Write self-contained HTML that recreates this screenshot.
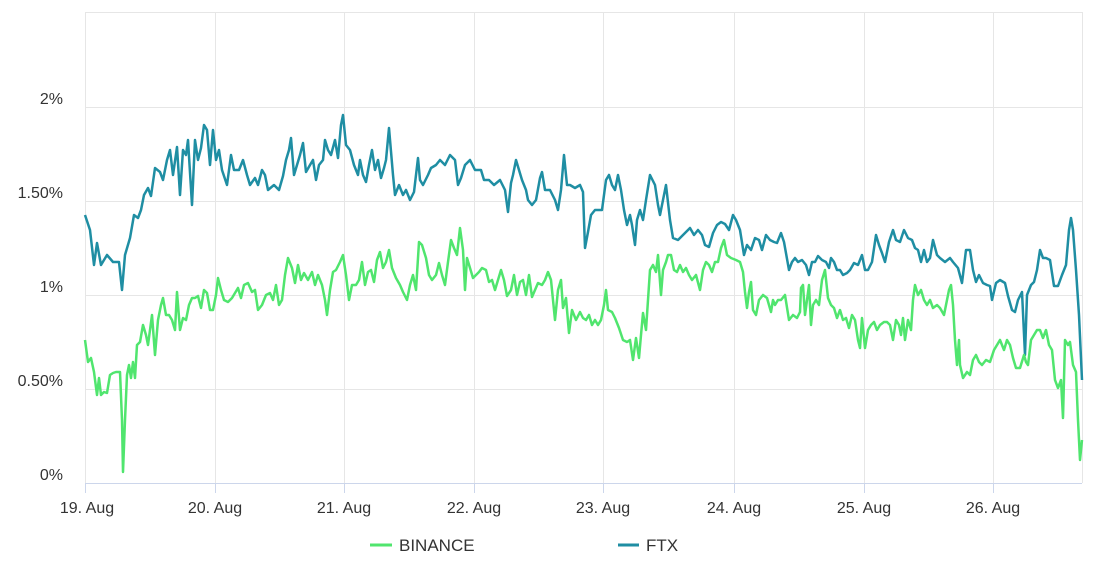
<!DOCTYPE html>
<html><head><meta charset="utf-8"><style>
html,body{margin:0;padding:0;background:#fff;}
svg{display:block;font-family:"Liberation Sans Narrow","Liberation Sans",sans-serif;}
</style></head><body>
<svg width="1098" height="569" viewBox="0 0 1098 569">
<g stroke="#e6e6e6" stroke-width="1">
<line x1="85" y1="12.5" x2="1082" y2="12.5"/>
<line x1="85" y1="107.5" x2="1082" y2="107.5"/>
<line x1="85" y1="201.5" x2="1082" y2="201.5"/>
<line x1="85" y1="295.5" x2="1082" y2="295.5"/>
<line x1="85" y1="389.5" x2="1082" y2="389.5"/>
<line x1="215.5" y1="12" x2="215.5" y2="483"/>
<line x1="344.5" y1="12" x2="344.5" y2="483"/>
<line x1="474.5" y1="12" x2="474.5" y2="483"/>
<line x1="603.5" y1="12" x2="603.5" y2="483"/>
<line x1="734.5" y1="12" x2="734.5" y2="483"/>
<line x1="864.5" y1="12" x2="864.5" y2="483"/>
<line x1="993.5" y1="12" x2="993.5" y2="483"/>
<line x1="85.5" y1="12" x2="85.5" y2="483"/>
<line x1="1082.5" y1="12" x2="1082.5" y2="483"/>
</g>
<line x1="85" y1="483.5" x2="1082" y2="483.5" stroke="#ccd6eb"/>
<g stroke="#ccd6eb"><line x1="85.5" y1="483" x2="85.5" y2="493"/><line x1="215.5" y1="483" x2="215.5" y2="493"/><line x1="344.5" y1="483" x2="344.5" y2="493"/><line x1="474.5" y1="483" x2="474.5" y2="493"/><line x1="603.5" y1="483" x2="603.5" y2="493"/><line x1="734.5" y1="483" x2="734.5" y2="493"/><line x1="864.5" y1="483" x2="864.5" y2="493"/><line x1="993.5" y1="483" x2="993.5" y2="493"/></g>
<g fill="#333" font-size="16" text-anchor="end">
<text x="63" y="104">2%</text><text x="63" y="198">1.50%</text><text x="63" y="292">1%</text><text x="63" y="386">0.50%</text><text x="63" y="480">0%</text>
</g>
<g fill="#333" font-size="16" text-anchor="middle">
<text x="87" y="513">19. Aug</text><text x="215" y="513">20. Aug</text><text x="344" y="513">21. Aug</text><text x="474" y="513">22. Aug</text><text x="603" y="513">23. Aug</text><text x="734" y="513">24. Aug</text><text x="864" y="513">25. Aug</text><text x="993" y="513">26. Aug</text>
</g>
<polyline fill="none" stroke="#1f8ea3" stroke-width="2.5" stroke-linejoin="round" points="85,215 90,230 94,265 97,243 101,265 107,255 113,262 119,262 122,290 125,255 130,238 134,215 138,218 141,210 144,195 148,188 151,196 155,168 160,172 163,180 167,160 170,150 173,175 177,147 180,195 183,150 186,155 188,140 192,205 195,140 198,160 201,148 204,125 207,130 210,165 213,130 216,160 219,150 222,170 227,185 231,155 234,170 239,170 243,160 247,175 250,185 255,178 258,185 262,170 265,175 268,190 274,185 279,190 283,176 286,160 289,150 291,138 294,175 297,165 300,155 303,143 306,172 310,165 313,160 316,180 319,165 323,160 325,140 328,150 331,155 335,140 338,158 341,125 343,115 346,145 350,150 354,165 358,175 360,160 363,175 366,182 369,165 372,150 375,170 378,160 381,178 384,168 386,160 389,128 393,175 395,195 399,185 403,195 406,190 410,200 414,192 418,158 420,180 423,185 428,175 431,168 436,165 440,160 445,165 450,155 455,160 458,185 461,178 465,165 470,160 475,170 481,170 484,180 489,180 494,185 500,180 505,190 508,212 511,183 513,175 516,160 519,170 522,180 526,190 528,200 532,205 536,200 540,178 542,172 545,190 550,190 555,200 558,210 561,190 564,155 567,185 570,185 575,188 580,185 583,192 585,248 588,232 591,215 595,210 599,210 602,210 606,180 609,175 612,185 615,190 618,175 621,190 624,210 627,225 630,215 632,225 635,245 637,220 640,210 643,220 646,200 650,175 655,185 658,205 660,215 663,200 666,185 670,220 673,238 678,240 683,235 686,232 690,228 694,235 698,230 702,235 705,245 709,247 713,233 717,225 721,222 725,224 729,230 733,215 736,220 740,230 744,255 747,245 751,250 755,238 759,240 762,250 766,235 770,240 774,242 777,243 781,233 784,242 789,270 792,262 795,258 798,262 802,260 806,265 809,275 812,262 815,262 818,256 822,260 826,262 829,268 831,258 834,262 837,270 840,270 843,275 847,273 850,270 854,263 858,265 862,255 865,270 868,270 872,262 876,235 879,245 882,253 885,262 889,242 893,230 896,240 900,242 904,230 908,238 912,240 915,248 918,250 921,262 924,250 927,262 930,258 933,240 937,255 940,258 945,262 950,258 953,262 958,268 962,283 966,250 970,250 973,270 976,282 979,275 983,283 987,285 990,286 992,300 996,283 1000,280 1005,283 1008,296 1012,310 1015,312 1018,300 1022,292 1025,355 1027,295 1031,285 1034,282 1037,270 1040,250 1043,258 1046,258 1050,260 1054,286 1058,286 1062,275 1066,265 1069,230 1071,218 1073,230 1076,270 1079,315 1082,380"/>
<polyline fill="none" stroke="#50e56e" stroke-width="2.5" stroke-linejoin="round" points="85,340 88,362 91,358 94,372 97,395 99,378 101,395 104,392 107,393 110,375 113,373 116,372 120,372 122,420 123,472 125,420 127,375 129,365 131,378 133,362 135,378 137,345 140,342 143,325 146,335 148,345 152,315 155,355 158,320 161,305 163,298 166,315 169,315 172,320 175,330 177,292 180,330 183,318 186,320 189,305 192,298 195,298 198,296 201,308 204,290 207,293 210,310 213,310 216,295 218,278 221,290 224,300 228,302 232,298 235,293 238,288 241,298 244,285 248,283 252,292 255,290 258,310 262,305 266,295 270,293 273,300 276,285 279,305 282,300 285,275 288,258 292,268 295,283 298,265 301,280 304,273 308,280 312,272 315,285 318,275 322,285 325,300 327,315 330,290 333,272 336,270 340,262 343,255 346,275 349,300 352,285 356,285 359,280 362,262 365,285 368,272 371,270 374,282 377,260 380,252 383,268 386,262 389,250 392,268 396,278 400,285 403,292 407,300 410,285 413,275 416,290 419,242 422,245 426,258 429,275 432,280 436,275 439,263 442,275 445,285 448,262 451,240 454,248 457,255 460,228 463,250 465,290 467,258 470,268 473,278 476,275 479,272 482,268 486,270 489,282 492,280 495,290 498,280 501,270 504,280 507,296 511,290 514,275 517,295 520,282 523,280 526,295 529,275 532,297 535,290 538,283 542,285 545,280 548,272 551,280 553,300 555,320 558,290 561,280 563,308 566,298 569,333 572,310 576,320 580,312 583,318 586,320 589,315 592,325 595,320 598,325 601,320 604,305 606,290 608,310 612,312 615,318 619,328 623,340 627,342 630,340 633,360 636,338 639,358 641,335 643,313 646,330 648,300 650,270 653,265 656,272 658,255 661,295 663,270 666,262 668,255 671,255 674,270 677,272 680,265 683,272 686,268 689,275 692,280 696,275 700,290 703,270 706,262 709,265 712,272 715,262 718,262 721,248 724,240 727,255 731,258 736,260 740,262 743,272 745,292 747,308 749,292 751,282 753,310 756,315 759,300 763,295 767,298 771,312 773,300 775,305 778,300 781,300 785,295 789,320 793,315 797,318 800,312 801,288 803,285 805,315 807,300 809,285 811,325 813,305 816,300 819,305 822,280 825,270 828,298 831,305 834,308 837,318 840,310 843,320 846,318 849,328 852,315 855,320 858,340 860,348 862,318 865,348 868,330 871,325 874,322 877,330 880,325 884,322 887,322 890,325 893,340 896,320 899,325 901,335 903,318 905,340 908,320 911,330 913,300 915,285 918,295 921,290 924,300 927,305 930,300 933,308 937,305 940,308 944,315 947,300 949,290 951,285 953,305 955,340 957,365 959,340 960,365 963,378 967,372 970,375 973,360 976,355 979,362 982,365 986,360 990,362 994,350 997,345 1000,340 1004,350 1007,340 1010,345 1013,358 1016,368 1020,368 1024,355 1026,362 1028,365 1031,340 1034,335 1037,330 1040,330 1043,338 1046,330 1049,345 1052,350 1055,380 1058,388 1061,380 1063,418 1065,340 1068,345 1070,342 1073,365 1076,372 1078,420 1080,460 1082,440"/>
<line x1="370" y1="545" x2="392" y2="545" stroke="#50e56e" stroke-width="3"/>
<text x="399" y="551" font-size="17" fill="#333">BINANCE</text>
<line x1="618" y1="545" x2="639" y2="545" stroke="#1f8ea3" stroke-width="3"/>
<text x="646" y="551" font-size="17" fill="#333">FTX</text>
</svg>
</body></html>
